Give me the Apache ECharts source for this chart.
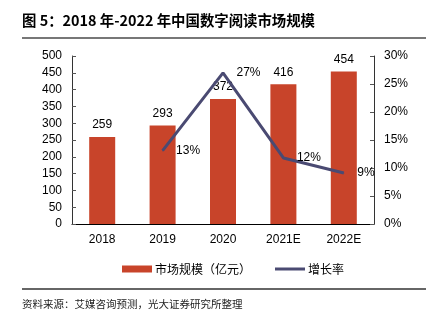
<!DOCTYPE html>
<html>
<head>
<meta charset="utf-8">
<script src="https://cdn.jsdelivr.net/npm/echarts@6/dist/echarts.min.js"></script>
<style>
html,body{margin:0;padding:0;background:#fff;}
#c{width:426px;height:328px;}
</style>
</head>
<body>
<div id="c"></div>
<script>
var categories = ['2018', '2019', '2020', '2021E', '2022E'];
var marketSize = [259, 293, 372, 416, 454];
var growthRate = [null, 13.1, 27.0, 11.8, 9.1];
var leftTicks = [0, 500, 50];
var rightTicks = [0, 30, 5];

var chart = echarts.init(document.getElementById('c'), null, {renderer: 'canvas'});
var fontLatin = '"Liberation Sans", Arial, sans-serif';
var fontCJK = '"Noto Sans CJK SC", sans-serif';

chart.setOption({
  animation: false,
  backgroundColor: '#fff',
  grid: {left: 72, right: 52, top: 56, bottom: 104},
  legend: {
    left: 117, top: 258,
    itemWidth: 30, itemHeight: 7, itemGap: 24,
    textStyle: {fontFamily: fontCJK, fontSize: 12, color: '#000', padding: [0,0,0,-2]},
    data: [
      {name: '市场规模（亿元）', icon: 'rect'},
      {name: '增长率', icon: 'path://M0,0 L30,0 L30,3 L0,3 Z'}
    ]
  },
  graphic: [
    {type: 'text', left: 22, top: 13, style: {text: '图 5：2018 年-2022 年中国数字阅读市场规模', font: 'bold 14.4px "Noto Sans CJK SC", sans-serif', fill: '#000'}},
    {type: 'rect', shape: {x: 22, y: 37, width: 404, height: 2}, style: {fill: '#777'}},
    {type: 'rect', shape: {x: 22, y: 288, width: 404, height: 2}, style: {fill: '#666'}},
    {type: 'text', left: 22, top: 299, style: {text: '资料来源：艾媒咨询预测，光大证券研究所整理', font: '10.5px "Noto Sans CJK SC", sans-serif', fill: '#222'}}
  ],
  xAxis: {
    type: 'category',
    data: categories,
    axisLine: {lineStyle: {color: '#000', width: 1}},
    axisTick: {inside: true, length: 4, lineStyle: {color: '#555'}},
    axisLabel: {fontFamily: fontLatin, fontSize: 12, color: '#000', margin: 10}
  },
  yAxis: [
    {
      type: 'value', min: leftTicks[0], max: leftTicks[1], interval: leftTicks[2],
      splitLine: {show: false},
      axisLine: {show: true, lineStyle: {color: '#333'}},
      axisTick: {show: true, inside: true, length: 4, lineStyle: {color: '#555'}},
      axisLabel: {fontFamily: fontLatin, fontSize: 12, color: '#000', margin: 10}
    },
    {
      type: 'value', min: rightTicks[0], max: rightTicks[1], interval: rightTicks[2],
      splitLine: {show: false},
      axisLine: {show: true, lineStyle: {color: '#333'}},
      axisTick: {show: true, inside: true, length: 4, lineStyle: {color: '#555'}},
      axisLabel: {fontFamily: fontLatin, fontSize: 12, color: '#000', margin: 10, formatter: '{value}%'}
    }
  ],
  series: [
    {
      name: '市场规模（亿元）',
      type: 'bar',
      data: marketSize,
      barWidth: 26,
      itemStyle: {color: '#c8442a'},
      label: {show: true, position: 'top', distance: 6, fontFamily: fontLatin, fontSize: 12, color: '#000'}
    },
    {
      name: '增长率',
      type: 'line',
      yAxisIndex: 1,
      data: growthRate,
      symbol: 'circle',
      symbolSize: 1,
      showSymbol: true,
      lineStyle: {color: '#4a4a72', width: 3},
      itemStyle: {color: '#4a4a72'},
      label: {
        show: true, position: 'right', distance: 13,
        fontFamily: fontLatin, fontSize: 12, color: '#000',
        formatter: function (p) { return Math.round(p.value) + '%'; }
      }
    }
  ]
});
</script>
</body>
</html>
